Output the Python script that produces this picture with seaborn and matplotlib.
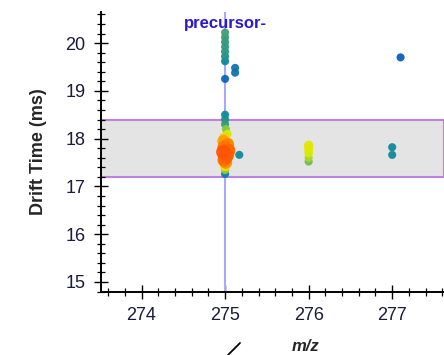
import numpy as np
import pandas as pd
import matplotlib
matplotlib.use("Agg")
import matplotlib.pyplot as plt
import seaborn as sns
from matplotlib.colors import LinearSegmentedColormap
from matplotlib.lines import Line2D
from matplotlib.ticker import MultipleLocator

# --- data ---
mz = [275.0, 275.0, 275.0, 275.0, 275.0, 275.0, 275.0,
      275.12, 275.12, 275.0, 277.1,
      275.0, 275.0, 275.0, 275.01, 275.03, 274.99, 275.05,
      274.98, 275.03, 274.99, 275.04, 274.98, 275.02, 275.0, 274.99, 275.01,
      275.0, 275.0, 275.0,
      275.17, 275.07,
      276.0, 276.0, 276.0, 276.0, 276.0,
      277.0, 277.0]
drift = [20.22, 20.12, 20.02, 19.92, 19.82, 19.72, 19.62,
         19.48, 19.38, 19.25, 19.70,
         18.50, 18.40, 18.30, 18.20, 18.10, 18.02, 17.92,
         17.95, 17.88, 17.82, 17.75, 17.72, 17.65, 17.60, 17.55, 17.50,
         17.42, 17.34, 17.26,
         17.66, 17.78,
         17.86, 17.78, 17.70, 17.60, 17.52,
         17.82, 17.66]
intensity = [0.32, 0.30, 0.28, 0.28, 0.26, 0.22, 0.14,
             0.08, 0.08, 0.02, 0.0,
             0.15, 0.20, 0.30, 0.45, 0.60, 0.72, 0.58,
             0.82, 0.88, 0.92, 0.95, 1.0, 0.98, 0.96, 0.92, 0.85,
             0.70, 0.45, 0.10,
             0.15, 0.55,
             0.66, 0.64, 0.62, 0.52, 0.40,
             0.15, 0.15]

precursor_mz = 275.0
band_lo, band_hi = 17.2, 18.38

df = pd.DataFrame({"mz": mz, "drift": drift, "intensity": intensity})
df = df.sort_values("intensity")

cmap = LinearSegmentedColormap.from_list(
    "ms", [(0.0, "#0a5fc0"), (0.15, "#0f8a9a"), (0.3, "#3a9a78"),
           (0.45, "#8cc840"), (0.6, "#d0ee00"), (0.7, "#f0e000"),
           (0.85, "#ff9000"), (1.0, "#ff5500")])

sns.set_style("white")
plt.rcParams["font.family"] = ["Liberation Sans", "DejaVu Sans"]

fig = plt.figure(figsize=(4.44, 3.55), dpi=100)
ax = fig.add_axes([101 / 444, 63 / 355, 1 - 101 / 444, 280 / 355])

ax.axhspan(band_lo, band_hi, facecolor="#e4e4e4", edgecolor="#c080e0",
           linewidth=1.5, zorder=0)
ax.axvline(precursor_mz, color="#a8a8ff", linewidth=1.5, zorder=1)

sns.scatterplot(data=df, x="mz", y="drift", hue="intensity", palette=cmap,
                hue_norm=(0, 1), size="intensity", sizes=(34, 110),
                size_norm=(0.6, 1.0), edgecolor="none", alpha=0.95,
                legend=False, ax=ax, zorder=3)

ax.text(precursor_mz, 0.96, "precursor-", transform=ax.get_xaxis_transform(),
        ha="center", va="center", color="#2a1acc", fontsize=12,
        fontweight="bold")

ax.set_xlim(273.515, 277.62)
ax.set_ylim(14.79, 20.65)
ax.xaxis.set_major_locator(MultipleLocator(1))
ax.xaxis.set_minor_locator(MultipleLocator(0.2))
ax.yaxis.set_major_locator(MultipleLocator(1))
ax.yaxis.set_minor_locator(MultipleLocator(0.2))

for side in ["top", "right"]:
    ax.spines[side].set_visible(False)
for side in ["left", "bottom"]:
    ax.spines[side].set_color("black")
    ax.spines[side].set_linewidth(1.4)

ax.tick_params(which="major", direction="inout", length=10, width=1.0,
               colors="black", labelcolor="#1a1a3a", labelsize=13, pad=6)
ax.tick_params(which="minor", direction="inout", length=6, width=0.9,
               colors="black")
ax.tick_params(axis="both", which="both", left=True, bottom=True)

ax.set_xlabel("m/z", fontsize=12, fontweight="bold", fontstyle="italic")
ax.set_ylabel("Drift Time (ms)", fontsize=13, fontweight="bold")
ax.xaxis.set_label_coords((306 - 101) / 343, -(339 - 292) / 280)
ax.yaxis.set_label_coords(-(101 - 47) / 343, 0.5)

fig.add_artist(Line2D([228 / 444, 240 / 444], [0 / 355, 12 / 355],
                      color="black", linewidth=1.3))

fig.savefig("out.png", dpi=100)
